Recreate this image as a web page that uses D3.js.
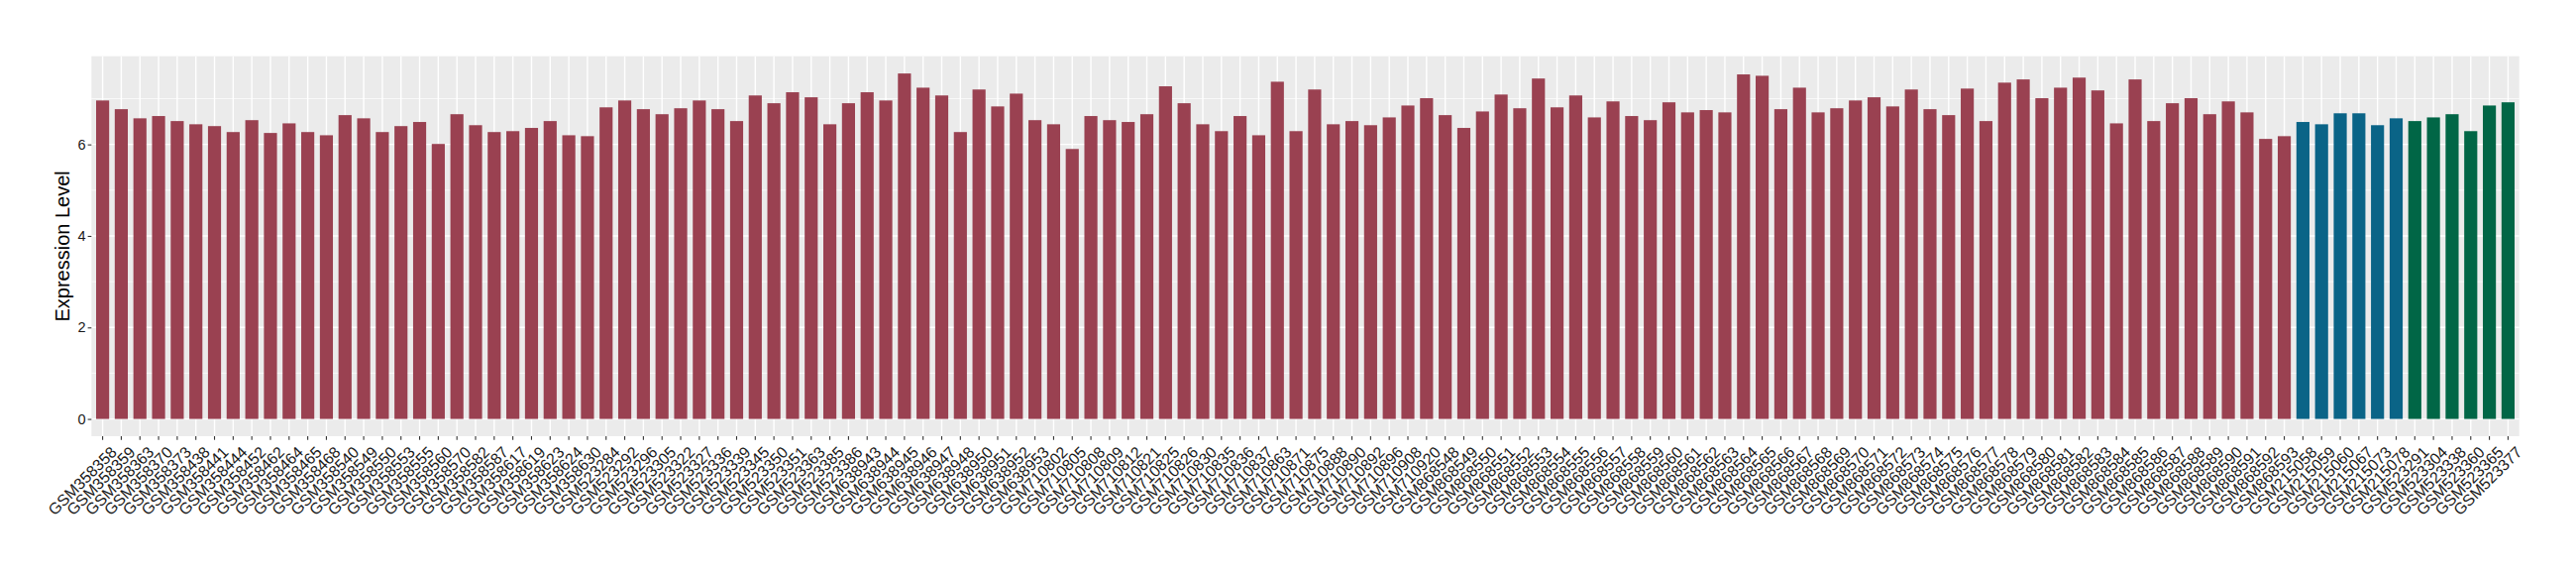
<!DOCTYPE html>
<html>
<head>
<meta charset="utf-8">
<script src="https://cdn.jsdelivr.net/npm/d3@7"></script>
<style>
  body { margin: 0; background: #fff; }
  text { font-family: "Liberation Sans", Arial, sans-serif; }
</style>
</head>
<body>
<div id="chart"></div>
<script>
// Samples and expression values, one set of arrays per group (colour)

const redSamples = [
  "GSM358358", "GSM358359", "GSM358363", "GSM358370", "GSM358373", "GSM358438", "GSM358441", "GSM358444",
  "GSM358452", "GSM358462", "GSM358464", "GSM358465", "GSM358468", "GSM358540", "GSM358549", "GSM358550",
  "GSM358553", "GSM358555", "GSM358560", "GSM358570", "GSM358582", "GSM358587", "GSM358617", "GSM358619",
  "GSM358623", "GSM358624", "GSM358630", "GSM523284", "GSM523292", "GSM523296", "GSM523305", "GSM523322",
  "GSM523327", "GSM523336", "GSM523339", "GSM523345", "GSM523350", "GSM523351", "GSM523363", "GSM523385",
  "GSM523386", "GSM638943", "GSM638944", "GSM638945", "GSM638946", "GSM638947", "GSM638948", "GSM638950",
  "GSM638951", "GSM638952", "GSM638953", "GSM710802", "GSM710805", "GSM710808", "GSM710809", "GSM710812",
  "GSM710821", "GSM710825", "GSM710826", "GSM710830", "GSM710835", "GSM710836", "GSM710837", "GSM710863",
  "GSM710871", "GSM710875", "GSM710888", "GSM710890", "GSM710892", "GSM710896", "GSM710908", "GSM710920",
  "GSM868548", "GSM868549", "GSM868550", "GSM868551", "GSM868552", "GSM868553", "GSM868554", "GSM868555",
  "GSM868556", "GSM868557", "GSM868558", "GSM868559", "GSM868560", "GSM868561", "GSM868562", "GSM868563",
  "GSM868564", "GSM868565", "GSM868566", "GSM868567", "GSM868568", "GSM868569", "GSM868570", "GSM868571",
  "GSM868572", "GSM868573", "GSM868574", "GSM868575", "GSM868576", "GSM868577", "GSM868578", "GSM868579",
  "GSM868580", "GSM868581", "GSM868582", "GSM868583", "GSM868584", "GSM868585", "GSM868586", "GSM868587",
  "GSM868588", "GSM868589", "GSM868590", "GSM868591", "GSM868592", "GSM868593"
];
const redValues = [
  6.96, 6.77, 6.57, 6.62, 6.51, 6.44, 6.40, 6.27,
  6.53, 6.25, 6.46, 6.27, 6.20, 6.64, 6.57, 6.27,
  6.40, 6.49, 6.01, 6.66, 6.42, 6.27, 6.29, 6.36,
  6.51, 6.20, 6.18, 6.81, 6.96, 6.77, 6.66, 6.79,
  6.96, 6.77, 6.51, 7.07, 6.90, 7.14, 7.03, 6.44,
  6.90, 7.14, 6.96, 7.55, 7.24, 7.07, 6.27, 7.20,
  6.83, 7.11, 6.53, 6.44, 5.90, 6.62, 6.53, 6.49,
  6.66, 7.27, 6.90, 6.44, 6.29, 6.62, 6.20, 7.37,
  6.29, 7.20, 6.44, 6.51, 6.42, 6.59, 6.85, 7.01,
  6.64, 6.36, 6.72, 7.09, 6.79, 7.44, 6.81, 7.07,
  6.59, 6.94, 6.62, 6.53, 6.92, 6.70, 6.75, 6.70,
  7.53, 7.50, 6.77, 7.24, 6.70, 6.79, 6.96, 7.03,
  6.83, 7.20, 6.77, 6.64, 7.22, 6.51, 7.35, 7.42,
  7.01, 7.24, 7.46, 7.18, 6.46, 7.42, 6.51, 6.90,
  7.01, 6.66, 6.94, 6.70, 6.12, 6.18
];

const blueSamples = ["GSM215058", "GSM215059", "GSM215060", "GSM215067", "GSM215073", "GSM215078"];
const blueValues = [6.49, 6.44, 6.68, 6.68, 6.42, 6.57];

const greenSamples = ["GSM523291", "GSM523304", "GSM523338", "GSM523360", "GSM523365", "GSM523377"];
const greenValues = [6.51, 6.59, 6.66, 6.29, 6.85, 6.92];

const yTicks = [0, 2, 4, 6];
const yMinorTicks = [1, 3, 5, 7];

const COLORS = {red: "#9A4151", blue: "#0A6487", green: "#016646"};

// Build one flat list for plotting

let data = [];
redSamples.forEach((s, i) => data.push({sample: s, value: redValues[i], group: "red"}));
blueSamples.forEach((s, i) => data.push({sample: s, value: blueValues[i], group: "blue"}));
greenSamples.forEach((s, i) => data.push({sample: s, value: greenValues[i], group: "green"}));

const width = 2600, height = 580;
const panel = {left: 92.3, right: 2542.7, top: 56.7, bottom: 440};

const svg = d3.select("#chart").append("svg")
    .attr("width", width)
    .attr("height", height);

const x = d3.scaleBand()
    .domain(data.map(d => d.sample))
    .range([panel.left, panel.right])
    .paddingInner(0.3)
    .paddingOuter(0.25);

const maxVal = d3.max(data, d => d.value);
const y = d3.scaleLinear()
    .domain([-0.05 * maxVal, 1.05 * maxVal])
    .range([panel.bottom, panel.top]);

// grey panel
svg.append("rect")
    .attr("x", panel.left)
    .attr("y", panel.top)
    .attr("width", panel.right - panel.left)
    .attr("height", panel.bottom - panel.top)
    .attr("fill", "#EBEBEB");

// minor grid
svg.append("g").selectAll("line")
    .data(yMinorTicks)
    .join("line")
    .attr("x1", panel.left).attr("x2", panel.right)
    .attr("y1", d => y(d)).attr("y2", d => y(d))
    .attr("stroke", "#fff")
    .attr("stroke-width", 0.7);

// major grid
svg.append("g").selectAll("line")
    .data(yTicks)
    .join("line")
    .attr("x1", panel.left).attr("x2", panel.right)
    .attr("y1", d => y(d)).attr("y2", d => y(d))
    .attr("stroke", "#fff")
    .attr("stroke-width", 1.4);

svg.append("g").selectAll("line")
    .data(data)
    .join("line")
    .attr("x1", d => x(d.sample) + x.bandwidth() / 2)
    .attr("x2", d => x(d.sample) + x.bandwidth() / 2)
    .attr("y1", panel.top).attr("y2", panel.bottom)
    .attr("stroke", "#fff")
    .attr("stroke-width", 1.4);

// bars
svg.append("g").selectAll("rect")
    .data(data)
    .join("rect")
    .attr("x", d => x(d.sample))
    .attr("y", d => y(d.value))
    .attr("width", x.bandwidth())
    .attr("height", d => y(0) - y(d.value))
    .attr("fill", d => COLORS[d.group]);

// Y axis
const yAxis = svg.append("g")
    .attr("transform", "translate(" + panel.left + ",0)")
    .call(d3.axisLeft(y).tickValues(yTicks).tickSize(3.7).tickPadding(2));
yAxis.select(".domain").remove();
yAxis.selectAll("line").attr("stroke", "#333").attr("stroke-width", 1.1);
yAxis.selectAll("text")
    .attr("font-size", "14.5px")
    .attr("font-family", "Liberation Sans, Arial, sans-serif")
    .attr("fill", "#1a1a1a");

// X axis
const xAxis = svg.append("g")
    .attr("transform", "translate(0," + panel.bottom + ")")
    .call(d3.axisBottom(x).tickSize(3.7));
xAxis.select(".domain").remove();
xAxis.selectAll("line").attr("stroke", "#333").attr("stroke-width", 1.1);
xAxis.selectAll("text")
    .attr("x", 0)
    .attr("y", 0)
    .attr("dy", "0.72em")
    .attr("transform", "translate(7,9) rotate(-45)")
    .attr("text-anchor", "end")
    .attr("font-size", "16px")
    .attr("font-family", "Liberation Sans, Arial, sans-serif")
    .attr("fill", "#1a1a1a");

// Y title
svg.append("text")
    .attr("transform", "translate(65," + (panel.top + panel.bottom) / 2 + ") rotate(-90)")
    .attr("text-anchor", "middle")
    .attr("dominant-baseline", "middle")
    .attr("font-size", "20px")
    .attr("fill", "#000")
    .text("Expression Level");
</script>
</body>
</html>
